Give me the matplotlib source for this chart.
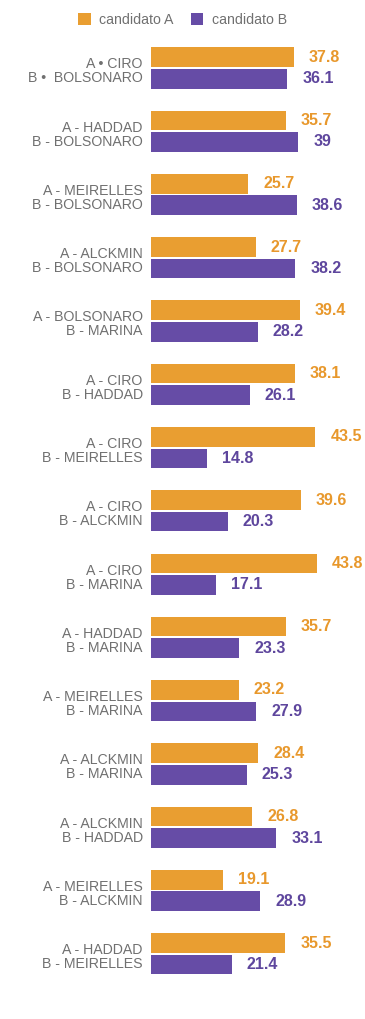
import numpy as np
import matplotlib.pyplot as plt

plt.rcParams["font.family"] = ["Liberation Sans", "DejaVu Sans"]

# ====== data ======
labels = [
    "A • CIRO\nB •  BOLSONARO",
    "A - HADDAD\nB - BOLSONARO",
    "A - MEIRELLES\nB - BOLSONARO",
    "A - ALCKMIN\nB - BOLSONARO",
    "A - BOLSONARO\nB - MARINA",
    "A - CIRO\nB - HADDAD",
    "A - CIRO\nB - MEIRELLES",
    "A - CIRO\nB - ALCKMIN",
    "A - CIRO\nB - MARINA",
    "A - HADDAD\nB - MARINA",
    "A - MEIRELLES\nB - MARINA",
    "A - ALCKMIN\nB - MARINA",
    "A - ALCKMIN\nB - HADDAD",
    "A - MEIRELLES\nB - ALCKMIN",
    "A - HADDAD\nB - MEIRELLES",
]
cand_a = [37.8, 35.7, 25.7, 27.7, 39.4, 38.1, 43.5, 39.6, 43.8, 35.7, 23.2, 28.4, 26.8, 19.1, 35.5]
cand_b = [36.1, 39, 38.6, 38.2, 28.2, 26.1, 14.8, 20.3, 17.1, 23.3, 27.9, 25.3, 33.1, 28.9, 21.4]
series_names = ["candidato A", "candidato B"]

col_a, col_b = "#e99e31", "#664ca6"
txt_a, txt_b = "#e8982c", "#5e469d"

W, H = 365, 1019
fig = plt.figure(figsize=(W / 100, H / 100), dpi=100)
ax = fig.add_axes([151 / W, 1 - 1000 / H, 209 / W, 970 / H])

y = np.arange(len(labels))
h = 0.31
ax.barh(y - 0.17, cand_a, height=h, color=col_a, label=series_names[0])
ax.barh(y + 0.17, cand_b, height=h, color=col_b, label=series_names[1])

for yi, a, b in zip(y, cand_a, cand_b):
    ax.annotate(f"{a:g}", (a, yi - 0.17), xytext=(15, 0), textcoords="offset pixels",
                va="center", ha="left", color=txt_a, fontsize=11.5, fontweight="bold")
    ax.annotate(f"{b:g}", (b, yi + 0.17), xytext=(15, 0), textcoords="offset pixels",
                va="center", ha="left", color=txt_b, fontsize=11.5, fontweight="bold")

ax.set_xlim(0, 55.3)
ax.set_ylim(14.73, -0.6)
ax.set_yticks(y + 0.03)
ax.set_yticklabels(labels, fontsize=10.2, color="#707070", linespacing=1.0)
ax.tick_params(axis="y", length=0, pad=6)
ax.set_xticks([])
for s in ax.spines.values():
    s.set_visible(False)

fig.legend(loc="upper center", bbox_to_anchor=(0.5, 1.0), ncol=2, frameon=False,
           fontsize=10.2, labelcolor="#707070", handlelength=0.9, handleheight=0.9,
           handletextpad=0.6, columnspacing=1.2)

fig.savefig("out.png", dpi=100, facecolor="white")
